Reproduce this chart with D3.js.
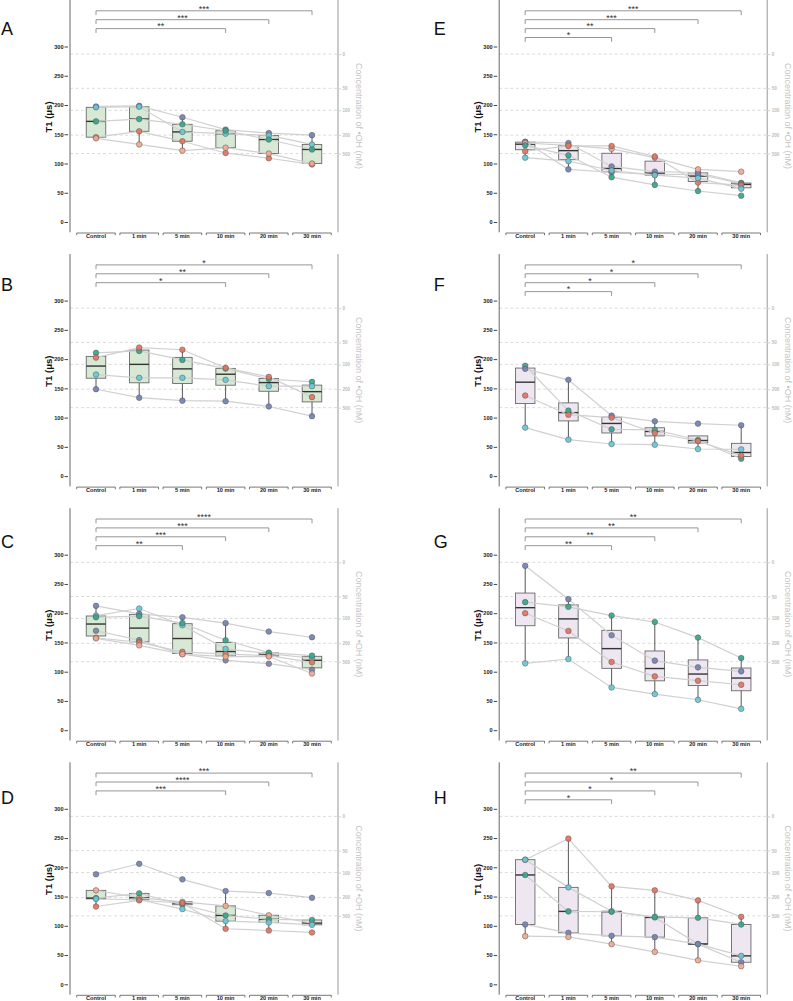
<!DOCTYPE html>
<html>
<head>
<meta charset="utf-8">
<script src="https://cdn.jsdelivr.net/npm/d3@7"></script>
<style>
  body { margin: 0; background: #fff; }
  .tick text { font-weight: bold; }
</style>
</head>
<body>
<div id="chart"></div>
<script>
// categories and axis ticks
const timepoints = ["Control", "1 min", "5 min", "10 min", "20 min", "30 min"];
const t1Ticks = [0, 50, 100, 150, 200, 250, 300];
const concLabels = ["0", "50", "100", "200", "500"];
const concT1 = [287, 228.5, 191, 148.5, 117]; // T1 level matching each *OH concentration

// T1 (µs) per subject across the six timepoints, plus subject colour key and significance
const A_t1 = [
  [197.5, 198.6, 179, 158, 152, 148.5],
  [196, 197, 154, 151, 148, 132.6],
  [172, 176, 167, 156, 141, 124],
  [145, 155, 138, 118, 109, 98.5],
  [143, 132.6, 122, 127, 117, 100]
];
const A_subj = ["slate", "cyan", "teal", "red", "salmon"];
const A_sig = [["30 min", "***"], ["20 min", "***"], ["10 min", "**"]];

const B_t1 = [
  [210.6, 214, 198.6, 183.8, 166, 161],
  [202.6, 219.7, 216, 185, 169.6, 135],
  [173.6, 168, 168, 164.5, 153.7, 153.7],
  [148.5, 134, 129, 128, 119, 102.4]
];
const B_subj = ["teal", "red", "cyan", "slate"];
const B_sig = [["30 min", "*"], ["20 min", "**"], ["10 min", "*"]];

const C_t1 = [
  [212.6, 199, 193, 183, 168.6, 158.9],
  [196, 208, 179.4, 139, 131, 123],
  [193, 195, 183, 153.7, 132.6, 127.4],
  [170, 154, 130, 119.4, 113.7, 103.4],
  [158, 150, 134, 130, 127.4, 116],
  [157, 145, 130, 125.7, 126, 97]
];
const C_subj = ["slate", "cyan", "teal", "slate2", "red", "salmon"];
const C_sig = [["30 min", "****"], ["20 min", "***"], ["10 min", "***"], ["5 min", "**"]];

const D_t1 = [
  [188, 206, 179.4, 159.4, 156, 148],
  [160.6, 148, 141, 134, 118, 104.6],
  [147.4, 155.4, 136, 117.7, 111, 110],
  [146, 144.5, 128.6, 108, 105.7, 101.7],
  [133, 143.5, 139, 95, 92, 88.6]
];
const D_subj = ["slate", "salmon", "teal", "cyan", "red"];
const D_sig = [["30 min", "***"], ["20 min", "****"], ["10 min", "***"]];

const E_t1 = [
  [137, 135, 95, 86, 84.6, 67],
  [137, 90, 85, 81, 82, 65.5],
  [135, 131, 125, 110, 90, 86],
  [121, 130, 130, 112, 67.4, 63],
  [131, 114, 76.6, 63.4, 53, 45],
  [110, 104, 88, 80, 75, 57]
];
const E_subj = ["slate2", "slate", "salmon", "red", "teal", "cyan"];
const E_sig = [["30 min", "***"], ["20 min", "***"], ["10 min", "**"], ["5 min", "*"]];

const F_t1 = [
  [188.6, 112, 80, 78.9, 61.7, 29.7],
  [183.4, 164.6, 103.4, 93.7, 89.7, 86.9],
  [137.7, 105, 100, 73.7, 60, 34.9],
  [82.9, 62.3, 54.9, 53.7, 46.3, 45.7]
];
const F_subj = ["teal", "slate", "red", "cyan"];
const F_sig = [["30 min", "*"], ["20 min", "*"], ["10 min", "*"], ["5 min", "*"]];

const G_t1 = [
  [281, 224, 162.3, 118.9, 107.4, 100.6],
  [218.9, 210.9, 196, 185, 158.3, 123.4],
  [200, 169.7, 116.6, 92, 84.6, 77.7],
  [114.3, 121.7, 73.1, 61.7, 52, 36.6]
];
const G_subj = ["slate", "teal", "red", "cyan"];
const G_sig = [["30 min", "**"], ["20 min", "**"], ["10 min", "**"], ["5 min", "**"]];

const H_t1 = [
  [213, 249, 167.4, 160.6, 143.4, 115.4],
  [213, 165.7, 125, 114.3, 69, 48.6],
  [186.9, 124.6, 124, 115.4, 113.7, 102.3],
  [102.3, 88, 82.9, 80.6, 68.6, 37.7],
  [82.3, 81, 68.6, 55.4, 41, 30.9]
];
const H_subj = ["red", "cyan", "teal", "slate", "salmon"];
const H_sig = [["30 min", "**"], ["20 min", "*"], ["10 min", "*"], ["5 min", "*"]];

// styling
const pointColor = {
  slate: "#7282b2", slate2: "#7f81a6", teal: "#34a68b",
  cyan: "#66c8d8", red: "#e2745f", salmon: "#f2a890"
};
const boxFill = ["#d7e9d4", "#eee7f1"];

const panels = [
  { letter: "A", col: 0, row: 0, t1: A_t1, subj: A_subj, sig: A_sig },
  { letter: "B", col: 0, row: 1, t1: B_t1, subj: B_subj, sig: B_sig },
  { letter: "C", col: 0, row: 2, t1: C_t1, subj: C_subj, sig: C_sig },
  { letter: "D", col: 0, row: 3, t1: D_t1, subj: D_subj, sig: D_sig },
  { letter: "E", col: 1, row: 0, t1: E_t1, subj: E_subj, sig: E_sig },
  { letter: "F", col: 1, row: 1, t1: F_t1, subj: F_subj, sig: F_sig },
  { letter: "G", col: 1, row: 2, t1: G_t1, subj: G_subj, sig: G_sig },
  { letter: "H", col: 1, row: 3, t1: H_t1, subj: H_subj, sig: H_sig }
];

const svg = d3.select("#chart")
  .append("svg")
  .attr("width", 793)
  .attr("height", 1001)
  .style("font-family", "'Liberation Sans', Arial, sans-serif");

panels.forEach(drawPanel);

function drawPanel(p) {
  const top = p.row * 254.1;
  const dx = p.col * 429.2;
  const axL = 70 + dx, axR = 338 + dx;

  const x = d3.scalePoint().domain(timepoints).range([96 + dx, 312 + dx]);
  const y = d3.scaleLinear().domain([0, 300]).range([top + 222, top + 46.5]);

  const g = svg.append("g");

  // dashed reference lines for the concentration axis
  g.selectAll(".ref")
    .data(concT1)
    .join("line")
    .attr("x1", axL).attr("x2", axR)
    .attr("y1", d => y(d)).attr("y2", d => y(d))
    .attr("stroke", "#d2d2d2")
    .attr("stroke-width", 0.8)
    .attr("stroke-dasharray", "3,2.5");

  // axis lines
  g.append("line")
    .attr("x1", axL).attr("x2", axL)
    .attr("y1", top).attr("y2", top + 232.3)
    .attr("stroke", "#666").attr("stroke-width", 1);
  g.append("line")
    .attr("x1", axR).attr("x2", axR)
    .attr("y1", top).attr("y2", top + 232.3)
    .attr("stroke", "#999").attr("stroke-width", 1);

  // left axis
  const yAxis = d3.axisLeft(y).tickValues(t1Ticks).tickSize(3.5).tickPadding(1);
  const ya = g.append("g")
    .attr("transform", "translate(" + (axL - 2) + ",0)")
    .call(yAxis);
  ya.select(".domain").remove();
  ya.selectAll("line").attr("stroke", "#444");
  ya.selectAll("text").attr("font-size", 5.6).attr("fill", "#222").attr("font-family", null);

  // right axis (concentration)
  const rAxis = d3.axisRight(y).tickValues(concT1)
    .tickFormat((d, i) => concLabels[i]).tickSize(3).tickPadding(1.5);
  const ra = g.append("g")
    .attr("transform", "translate(" + axR + ",0)")
    .call(rAxis);
  ra.select(".domain").remove();
  ra.selectAll("line").attr("stroke", "#d2d2d2");
  ra.selectAll("text").attr("font-size", 4.6).attr("fill", "#bdbdbd")
    .attr("font-weight", "normal").attr("font-family", null);

  // category brackets along the bottom
  const yb = top + 233;
  const cat = g.selectAll(".cat").data(timepoints).join("g");
  cat.append("path")
    .attr("d", d => "M" + (x(d) - 19.3) + "," + (yb + 2.2) + "V" + yb + "H" + (x(d) + 19.3) + "V" + (yb + 2.2))
    .attr("fill", "none").attr("stroke", "#555").attr("stroke-width", 0.8);
  cat.append("text")
    .attr("x", d => x(d)).attr("y", yb + 4.9)
    .attr("text-anchor", "middle")
    .attr("font-size", 5.6).attr("font-weight", "bold").attr("fill", "#222")
    .text(d => d);

  // titles
  g.append("text")
    .attr("transform", "translate(" + (48.7 + dx) + "," + (top + 117) + ") rotate(-90)")
    .attr("dy", "0.35em")
    .attr("text-anchor", "middle")
    .attr("font-size", 9.5).attr("font-weight", "bold").attr("fill", "#111")
    .text("T1 (μs)");
  g.append("text")
    .attr("transform", "translate(" + (359.3 + dx) + "," + (top + 116) + ") rotate(90)")
    .attr("dy", "0.35em")
    .attr("text-anchor", "middle")
    .attr("font-size", 9).attr("fill", "#c4c4c4")
    .text("Concentration of •OH (nM)");
  g.append("text")
    .attr("x", 1 + dx + p.col * 3.5).attr("y", 35 + p.row * 2.3)
    .attr("transform", "translate(0," + top + ")")
    .attr("font-size", 18).attr("fill", "#111")
    .text(p.letter);

  // significance brackets
  p.sig.forEach((s, k) => {
    const by = top + 10.8 + 8.9 * k;
    const x0 = x("Control"), x1 = x(s[0]);
    g.append("path")
      .attr("d", "M" + x0 + "," + (by + 4.3) + "V" + by + "H" + x1 + "V" + (by + 4.3))
      .attr("fill", "none").attr("stroke", "#8a8a8a").attr("stroke-width", 0.9);
    g.append("text")
      .attr("x", (x0 + x1) / 2).attr("y", by + 0.8)
      .attr("text-anchor", "middle")
      .attr("font-size", 9).attr("fill", "#333")
      .text(s[1]);
  });

  // box plots
  const boxW = 19.5;
  timepoints.forEach((t, j) => {
    const vals = p.t1.map(s => s[j]).sort(d3.ascending);
    const q1 = d3.quantile(vals, 0.25), med = d3.quantile(vals, 0.5), q3 = d3.quantile(vals, 0.75);
    const iqr = q3 - q1;
    const lo = d3.min(vals.filter(v => v >= q1 - 1.5 * iqr));
    const hi = d3.max(vals.filter(v => v <= q3 + 1.5 * iqr));
    const cx = x(t);
    g.append("line")
      .attr("x1", cx).attr("x2", cx).attr("y1", y(lo)).attr("y2", y(hi))
      .attr("stroke", "#444").attr("stroke-width", 0.9);
    g.append("rect")
      .attr("x", cx - boxW / 2).attr("width", boxW)
      .attr("y", y(q3)).attr("height", y(q1) - y(q3))
      .attr("fill", boxFill[p.col]).attr("stroke", "#6a6a6a").attr("stroke-width", 0.9);
    g.append("line")
      .attr("x1", cx - boxW / 2).attr("x2", cx + boxW / 2)
      .attr("y1", y(med)).attr("y2", y(med))
      .attr("stroke", "#333").attr("stroke-width", 1.4);
  });

  // subject lines and points
  const line = d3.line()
    .x((d, j) => x(timepoints[j]))
    .y(d => y(d));
  g.selectAll(".subj")
    .data(p.t1)
    .join("path")
    .attr("d", line)
    .attr("fill", "none")
    .attr("stroke", "#d0d0d0")
    .attr("stroke-width", 1.2);

  p.t1.forEach((s, i) => {
    g.selectAll(null)
      .data(s)
      .join("circle")
      .attr("cx", (d, j) => x(timepoints[j]))
      .attr("cy", d => y(d))
      .attr("r", 2.8)
      .attr("fill", pointColor[p.subj[i]])
      .attr("fill-opacity", 0.92)
      .attr("stroke", "#555")
      .attr("stroke-width", 0.5);
  });
}
</script>
</body>
</html>
